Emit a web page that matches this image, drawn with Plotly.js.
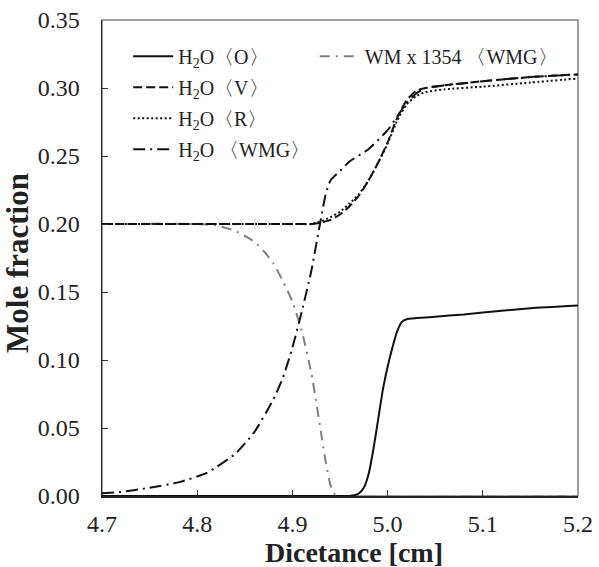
<!DOCTYPE html>
<html>
<head>
<meta charset="utf-8">
<script src="https://cdn.plot.ly/plotly-3.0.1.min.js"></script>
<style>body{margin:0;padding:0;background:#fff;}#chart{width:599px;height:567px;}</style>
</head>
<body>
<div id="chart"></div>
<script>
// H2O <O> (solid)
const xO = [4.7, 4.9, 4.96, 4.965, 4.97, 4.975, 4.98, 4.985, 4.99, 4.995, 5.0, 5.005, 5.01, 5.015, 5.02, 5.03, 5.05, 5.08, 5.1, 5.15, 5.2];
const yO = [0, 0, 0, 0.0005, 0.002, 0.006, 0.016, 0.034, 0.056, 0.078, 0.095, 0.109, 0.121, 0.128, 0.130, 0.1308, 0.1318, 0.1335, 0.135, 0.138, 0.140];
// H2O <V> (dashed)
const xV = [4.7, 4.9, 4.92, 4.93, 4.94, 4.95, 4.96, 4.97, 4.98, 4.99, 5.0, 5.01, 5.02, 5.03, 5.04, 5.06, 5.1, 5.15, 5.2];
const yV = [0.2, 0.2, 0.2, 0.201, 0.203, 0.207, 0.213, 0.221, 0.232, 0.245, 0.26, 0.278, 0.291, 0.298, 0.300, 0.302, 0.305, 0.308, 0.310];
// H2O <R> (dotted)
const xR = [4.7, 4.9, 4.92, 4.93, 4.94, 4.95, 4.96, 4.97, 4.98, 4.99, 5.0, 5.01, 5.02, 5.03, 5.04, 5.06, 5.1, 5.15, 5.2];
const yR = [0.2, 0.2, 0.2, 0.202, 0.205, 0.209, 0.215, 0.222, 0.232, 0.245, 0.259, 0.276, 0.288, 0.294, 0.297, 0.299, 0.301, 0.304, 0.307];
// H2O <WMG> (dash-dot)
const xW = [4.7, 4.72, 4.75, 4.78, 4.81, 4.84, 4.86, 4.88, 4.89, 4.9, 4.91, 4.92, 4.93, 4.935, 4.94, 4.95, 4.96, 4.98, 5.0, 5.01, 5.02, 5.03, 5.04, 5.06, 5.1, 5.15, 5.2];
const yW = [0.002, 0.003, 0.006, 0.010, 0.017, 0.031, 0.047, 0.071, 0.087, 0.109, 0.136, 0.166, 0.204, 0.222, 0.232, 0.239, 0.246, 0.255, 0.269, 0.279, 0.289, 0.296, 0.300, 0.302, 0.305, 0.308, 0.310];
// WM x 1354 <WMG> (grey dash-dot)
const xM = [4.7, 4.8, 4.82, 4.84, 4.86, 4.87, 4.88, 4.89, 4.9, 4.91, 4.92, 4.93, 4.935, 4.94, 4.945, 4.95, 5.2];
const yM = [0.2, 0.2, 0.199, 0.195, 0.187, 0.180, 0.171, 0.158, 0.143, 0.121, 0.090, 0.047, 0.025, 0.008, 0.001, 0, 0];

const names = ['H<sub>2</sub>O〈O〉', 'H<sub>2</sub>O〈V〉', 'H<sub>2</sub>O〈R〉', 'H<sub>2</sub>O 〈WMG〉', 'WM x 1354 〈WMG〉'];
const xTicks = [4.7, 4.8, 4.9, 5.0, 5.1, 5.2];
const yTicks = [0, 0.05, 0.10, 0.15, 0.20, 0.25, 0.30, 0.35];
const xTitle = 'Dicetance [cm]';
const yTitle = 'Mole fraction';

const F = 'Liberation Serif, Times New Roman, serif';
function tr(x, y, name, color, dash, lg, grp) {
  return {x: x, y: y, name: name, type: 'scatter', mode: 'lines',
    line: {color: color, width: 2, dash: dash, shape: 'spline', smoothing: 0.5},
    legend: lg, legendgroup: grp};
}
const data = [
  tr(xM, yM, names[4], '#808080', '10px,6px,2px,6px', 'legend2', 'g5'),
  tr(xO, yO, names[0], '#111', 'solid', 'legend', 'g1'),
  tr(xV, yV, names[1], '#111', '9px,4px', 'legend', 'g2'),
  tr(xR, yR, names[2], '#111', '2px,2.5px', 'legend', 'g3'),
  tr(xW, yW, names[3], '#111', '12px,5px,2px,5px', 'legend', 'g4')
];
const layout = {
  width: 599, height: 567,
  margin: {l: 102, r: 21, t: 20, b: 71},
  paper_bgcolor: '#fff', plot_bgcolor: '#fff',
  font: {family: F, size: 24, color: '#222'},
  xaxis: {range: [4.7, 5.2], tickvals: xTicks, tickformat: '.1f', ticks: 'inside', ticklen: 6,
    tickcolor: '#333', showline: true, linecolor: '#222', linewidth: 1.5, showgrid: false, zeroline: false,
    tickfont: {family: F, size: 24, color: '#222'}, ticklabelstandoff: 6},
  yaxis: {range: [0, 0.35], tickvals: yTicks, tickformat: '.2f', ticks: 'inside', ticklen: 6,
    tickcolor: '#333', showline: true, linecolor: '#222', linewidth: 1.5, showgrid: false, zeroline: false,
    tickfont: {family: F, size: 24, color: '#222'}, ticklabelstandoff: 16},
  annotations: [
    {text: '<b>' + xTitle + '</b>', xref: 'paper', yref: 'paper', x: 0.529, y: -0.118,
     xanchor: 'center', yanchor: 'middle', showarrow: false, font: {family: F, size: 28, color: '#222'}},
    {text: '<b>' + yTitle + '</b>', xref: 'paper', yref: 'paper', x: -0.176, y: 0.49, textangle: -90,
     xanchor: 'center', yanchor: 'middle', showarrow: false, font: {family: F, size: 31, color: '#222'}}
  ],
  shapes: [{type: 'rect', xref: 'paper', yref: 'paper', x0: 0, y0: 0, x1: 1, y1: 1,
    line: {color: '#808080', width: 1.5}, layer: 'below'}],
  legend: {x: 0.055, y: 0.965, xanchor: 'left', yanchor: 'top', bgcolor: 'rgba(0,0,0,0)',
    font: {family: F, size: 20, color: '#222'}, tracegroupgap: 2, itemwidth: 40},
  legend2: {x: 0.447, y: 0.965, xanchor: 'left', yanchor: 'top', bgcolor: 'rgba(0,0,0,0)',
    font: {family: F, size: 20, color: '#222'}, itemwidth: 40},
  showlegend: true
};
Plotly.newPlot('chart', data, layout, {displayModeBar: false, staticPlot: true});
</script>
</body>
</html>
